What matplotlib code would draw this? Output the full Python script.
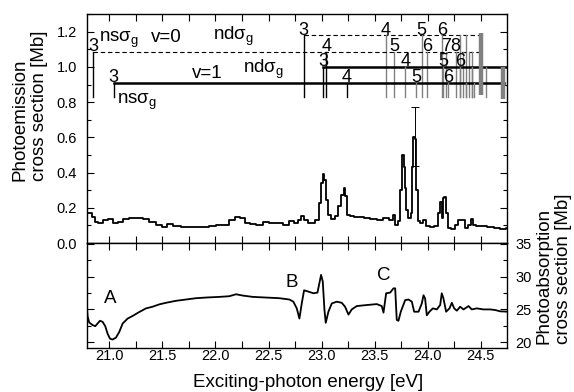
import matplotlib
matplotlib.use('Agg')
import matplotlib.pyplot as plt
from matplotlib.ticker import MultipleLocator

plt.rcParams['font.family'] = ['Liberation Sans', 'DejaVu Sans']
plt.rcParams['mathtext.fontset'] = 'custom'
plt.rcParams['mathtext.rm'] = 'Liberation Sans'
plt.rcParams['mathtext.it'] = 'Liberation Sans'

# photoemission cross section [Mb]
pe_energy = [20.796, 20.827, 20.849, 20.874, 20.921, 20.969, 21.016, 21.063, 21.11, 21.157,
             21.22, 21.283, 21.346, 21.408, 21.471, 21.518, 21.565, 21.628, 21.722, 21.817,
             21.911, 21.974, 22.037, 22.1, 22.162, 22.209, 22.257, 22.304, 22.351, 22.414,
             22.476, 22.539, 22.602, 22.665, 22.712, 22.759,
             22.797, 22.822, 22.854, 22.891, 22.923, 22.961, 22.986, 23.001, 23.017, 23.036,
             23.055, 23.074, 23.105, 23.143, 23.174, 23.199, 23.215, 23.231, 23.253, 23.284,
             23.331, 23.378, 23.426, 23.488, 23.551, 23.614, 23.661, 23.683, 23.708, 23.733,
             23.749, 23.765, 23.781, 23.79, 23.809, 23.828, 23.85, 23.859, 23.872, 23.887,
             23.897, 23.913, 23.944, 23.975, 23.997, 24.038, 24.085, 24.107, 24.123, 24.136,
             24.148, 24.167, 24.18, 24.195, 24.242, 24.274, 24.305, 24.337, 24.362, 24.4,
             24.415, 24.437, 24.478, 24.525, 24.588, 24.651, 24.714, 24.761]
pe_value = [0.172, 0.17, 0.146, 0.121, 0.115, 0.13, 0.134, 0.112, 0.121, 0.134,
            0.144, 0.14, 0.134, 0.121, 0.102, 0.093, 0.108, 0.098, 0.093, 0.089,
            0.093, 0.097, 0.102, 0.102, 0.131, 0.146, 0.14, 0.115, 0.108, 0.102,
            0.121, 0.112, 0.115, 0.102, 0.127, 0.111,
            0.133, 0.152, 0.129, 0.111, 0.114, 0.133, 0.227, 0.34, 0.392, 0.358,
            0.246, 0.161, 0.137, 0.152, 0.212, 0.274, 0.311, 0.265, 0.161, 0.152,
            0.148, 0.148, 0.143, 0.137, 0.133, 0.143, 0.133, 0.161, 0.105, 0.124,
            0.302, 0.499, 0.433, 0.311, 0.19, 0.143, 0.171, 0.433, 0.602, 0.593,
            0.302, 0.124, 0.111, 0.133, 0.096, 0.092, 0.099, 0.171, 0.231, 0.143,
            0.255, 0.261, 0.171, 0.086, 0.081, 0.105, 0.133, 0.133, 0.086, 0.105,
            0.137, 0.105, 0.096, 0.099, 0.092, 0.086, 0.077, 0.086]

# error bar on the strongest peak
err_x, err_y, err_dy = 23.878, 0.605, 0.165

# photoabsorption cross section [Mb]
pa_energy = [20.78, 20.796, 20.811, 20.843, 20.868, 20.89, 20.912, 20.937, 20.962, 20.984,
             21.006, 21.031, 21.063, 21.094, 21.126, 21.173, 21.22, 21.283, 21.346, 21.408,
             21.471, 21.534, 21.628, 21.722, 21.817, 21.911, 22.037, 22.131, 22.194, 22.257,
             22.351, 22.476, 22.602, 22.696,
             22.734, 22.766, 22.791, 22.813, 22.835, 22.876, 22.923, 22.961, 22.979, 22.995,
             23.011, 23.027, 23.039, 23.064, 23.096, 23.143, 23.19, 23.221, 23.253, 23.284,
             23.331, 23.426, 23.52, 23.567, 23.583, 23.608, 23.646, 23.677, 23.693, 23.708,
             23.724, 23.746, 23.787, 23.818, 23.85, 23.872, 23.913, 23.944, 23.96, 23.975,
             23.991, 24.016, 24.048, 24.085, 24.117, 24.132, 24.148, 24.173, 24.205, 24.227,
             24.249, 24.274, 24.305, 24.337, 24.384, 24.415, 24.462, 24.525, 24.588, 24.635,
             24.682, 24.761]
pa_value = [27.45, 23.9, 23.0, 22.6, 22.44, 22.85, 23.26, 23.1, 22.44, 21.3,
            20.55, 20.4, 20.7, 21.56, 22.85, 23.6, 24.0, 24.6, 25.15, 25.4,
            25.76, 26.0, 26.3, 26.5, 26.7, 26.8, 26.9, 27.0, 27.3, 27.1,
            26.9, 26.8, 26.7, 26.5,
            26.17, 25.15, 23.6, 25.9, 27.9, 27.7, 27.45, 27.55, 28.97, 30.25,
            29.23, 24.9, 22.95, 24.64, 25.9, 26.17, 26.0, 25.4, 24.2, 24.99,
            25.5, 25.66, 25.8, 25.5, 24.5, 27.45, 27.55, 28.2, 28.2, 23.4,
            23.26, 24.64, 26.4, 26.5, 26.17, 24.64, 24.64, 25.9, 27.15, 26.66,
            24.1, 24.64, 25.15, 24.99, 25.66, 27.45, 26.66, 24.64, 25.15, 26.0,
            25.15, 24.8, 25.4, 24.99, 25.5, 24.99, 25.15, 24.99, 24.99, 24.9,
            24.7, 24.64]

# Rydberg series: level of the bar, start / end energy, member positions, labelled members
nd_v0_level, nd_v0_start, nd_v0_end = 1.18, 22.83, 24.50
nd_v0_lines = [22.83, 23.605, 23.944, 24.133, 24.30, 24.36]
nd_v0_labels = ['3', '4', '5', '6']

ns_v0_level, ns_v0_start, ns_v0_end = 1.087, 20.85, 24.50
ns_v0_lines = [20.85, 23.043, 23.683, 23.994, 24.17, 24.262, 24.336, 24.384, 24.416]
ns_v0_labels = ['3', '4', '5', '6', '7', '8']

nd_v1_level, nd_v1_start, nd_v1_end = 1.0, 23.017, 24.75
nd_v1_lines = [23.017, 23.787, 24.148, 24.305, 24.42, 24.553]
nd_v1_labels = ['3', '4', '5', '6']

ns_v1_level, ns_v1_start, ns_v1_end = 0.91, 21.04, 24.72
ns_v1_lines = [21.04, 23.24, 23.888, 24.195, 24.36, 24.44]
ns_v1_labels = ['3', '4', '5', '6']

limit_v0, limit_v1 = 24.50, 24.71
line_bottom = 0.83

fig = plt.figure(figsize=(5.74, 3.92), dpi=100)
ax1 = fig.add_axes([0.151, 0.380, 0.732, 0.584])
ax2 = fig.add_axes([0.151, 0.112, 0.732, 0.268])

# upper panel: photoemission
ax1.plot(pe_energy, pe_value, color='black', linewidth=1.3, drawstyle='steps-mid')
ax1.errorbar(err_x, err_y, yerr=err_dy, fmt='none', ecolor='black', elinewidth=0.7, capsize=3, capthick=0.7)

series = [
    (nd_v0_level, nd_v0_start, nd_v0_end, nd_v0_lines, nd_v0_labels, (0, (4, 2.5)), 0.8),
    (ns_v0_level, ns_v0_start, ns_v0_end, ns_v0_lines, ns_v0_labels, (0, (4, 2.5)), 0.8),
    (nd_v1_level, nd_v1_start, nd_v1_end, nd_v1_lines, nd_v1_labels, '-', 1.8),
    (ns_v1_level, ns_v1_start, ns_v1_end, ns_v1_lines, ns_v1_labels, '-', 1.8),
]
for level, start, end, lines, labels, ls, lw in series:
    ax1.plot([start, end], [level, level], color='black', linestyle=ls, linewidth=lw)
    for i, e in enumerate(lines):
        c = 'black' if e < 23.5 else 'gray'
        ax1.plot([e, e], [line_bottom, level], color=c, linewidth=1.0)
        if i < len(labels):
            ax1.text(e, level + 0.004, labels[i], fontsize=13, ha='center', va='baseline')

# series limits
ax1.plot([limit_v0, limit_v0], [0.84, 1.19], color='gray', linewidth=3.2, solid_capstyle='butt')
ax1.plot([limit_v1, limit_v1], [0.82, 1.0], color='gray', linewidth=3.2, solid_capstyle='butt')

ax1.text(20.90, 1.139, r'ns$\sigma_{\rm g}$', fontsize=13.5, ha='left', va='baseline')
ax1.text(21.535, 1.139, 'v=0', fontsize=13.5, ha='center', va='baseline')
ax1.text(21.98, 1.153, r'nd$\sigma_{\rm g}$', fontsize=13.5, ha='left', va='baseline')
ax1.text(21.925, 0.94, 'v=1', fontsize=13.5, ha='center', va='baseline')
ax1.text(22.26, 0.964, r'nd$\sigma_{\rm g}$', fontsize=13.5, ha='left', va='baseline')
ax1.text(21.07, 0.79, r'ns$\sigma_{\rm g}$', fontsize=13.5, ha='left', va='baseline')

ax1.set_xlim(20.787, 24.745)
ax1.set_ylim(0, 1.3)
ax1.xaxis.set_major_locator(MultipleLocator(0.5))
ax1.xaxis.set_minor_locator(MultipleLocator(0.25))
ax1.yaxis.set_major_locator(MultipleLocator(0.2))
ax1.yaxis.set_minor_locator(MultipleLocator(0.1))
ax1.tick_params(which='both', direction='in', top=True, right=True, labelbottom=False, width=0.8)
ax1.tick_params(which='major', length=5, labelsize=10.5, pad=7)
ax1.tick_params(axis='x', which='minor', length=5)
ax1.tick_params(axis='y', which='minor', length=3)
ax1.set_yticks([0.0, 0.2, 0.4, 0.6, 0.8, 1.0, 1.2])
ax1.set_yticklabels(['0.0', '0.2', '0.4', '0.6', '0.8', '1.0', '1.2'])

# lower panel: photoabsorption
ax2.plot(pa_energy, pa_value, color='black', linewidth=1.3)
ax2.text(21.01, 26.6, 'A', fontsize=13.5, ha='center', va='center')
ax2.text(22.72, 29.1, 'B', fontsize=13.5, ha='center', va='center')
ax2.text(23.59, 30.15, 'C', fontsize=13.5, ha='center', va='center')

ax2.set_xlim(20.787, 24.745)
ax2.set_ylim(19.1, 35.1)
ax2.xaxis.set_major_locator(MultipleLocator(0.5))
ax2.xaxis.set_minor_locator(MultipleLocator(0.25))
ax2.yaxis.set_major_locator(MultipleLocator(5))
ax2.yaxis.set_minor_locator(MultipleLocator(2.5))
ax2.tick_params(which='both', direction='in', top=True, right=True, left=True,
                labelleft=False, labelright=True, width=0.8)
ax2.tick_params(which='major', length=5, labelsize=10.5)
ax2.tick_params(axis='x', which='both', length=5, pad=1)
ax2.tick_params(axis='y', which='major', pad=6)
ax2.tick_params(axis='y', which='minor', length=3)
ax2.xaxis.set_major_formatter(plt.FormatStrFormatter('%.1f'))

for ax in (ax1, ax2):
    for sp in ax.spines.values():
        sp.set_linewidth(1.0)

fig.text(0.052, 1 - 106 / 392, 'Photoemission\ncross section [Mb]', fontsize=13.5,
         rotation=90, ha='center', va='center', multialignment='left')
fig.text(0.964, 1 - 269 / 392, 'Photoabsorption\ncross section [Mb]', fontsize=13.5,
         rotation=90, ha='center', va='center', multialignment='left')
fig.text(0.537, 0.023, 'Exciting-photon energy [eV]', fontsize=13.5, ha='center', va='center')

fig.savefig('out.png', dpi=100)
